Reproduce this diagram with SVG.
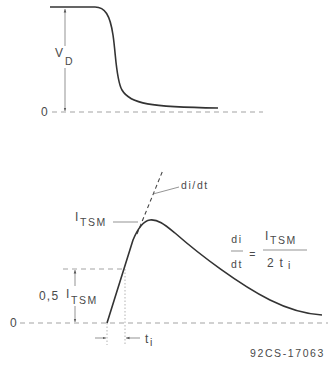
<svg xmlns="http://www.w3.org/2000/svg" width="328" height="365" viewBox="0 0 328 365">
<defs>
<marker id="ah" viewBox="0 0 6 6" refX="6" refY="3" markerWidth="5" markerHeight="5" orient="auto-start-reverse"><path d="M0,0.8 L6,3 L0,5.2 Z" fill="#555"/></marker>
<style>
.curve{fill:none;stroke:#333;stroke-width:1.6}
.dash{fill:none;stroke:#999;stroke-width:0.9;stroke-dasharray:5,4}
.dot{fill:none;stroke:#aaa;stroke-width:0.9;stroke-dasharray:1.5,2}
.dim{fill:none;stroke:#666;stroke-width:0.7}
.t{font-family:"Liberation Sans",Arial,sans-serif;font-size:12px;letter-spacing:1.2px;fill:#4a4a4a}
.s{font-family:"Liberation Sans",Arial,sans-serif;font-size:10.5px;letter-spacing:1.6px;fill:#4a4a4a}
</style>
</defs>
<g id="connectors">
<line class="dash" x1="52" y1="112" x2="263" y2="112"/>
<line class="dim" x1="65" y1="9" x2="65" y2="46" marker-start="url(#ah)"/>
<line class="dim" x1="65" y1="68" x2="65" y2="111" marker-end="url(#ah)"/>
<line class="dash" x1="20" y1="323" x2="328" y2="323"/>
<line class="dash" x1="63" y1="269" x2="125" y2="269"/>
<line class="dot" x1="125" y1="269" x2="125" y2="345"/>
<line class="dot" x1="107" y1="323" x2="107" y2="345"/>
<line class="dim" x1="75" y1="270" x2="75" y2="286" marker-start="url(#ah)"/>
<line class="dim" x1="75" y1="306" x2="75" y2="322" marker-end="url(#ah)"/>
<line class="dim" x1="95" y1="338" x2="106" y2="338" marker-end="url(#ah)"/>
<line class="dim" x1="140" y1="338" x2="126" y2="338" marker-end="url(#ah)"/>
<line class="dash" x1="137" y1="234" x2="163" y2="170" style="stroke:#444;stroke-width:1.1;stroke-dasharray:4,3"/>
<line class="dim" x1="113" y1="222" x2="138" y2="222"/>
<path class="dim" d="M179,187 L153,194"/>
</g>
<g id="vd-curve">
<path class="curve" d="M50,7 L95,7 C105,7 110,15 113,35 C116,55 116,80 122,90 C130,104 150,107 218,108"/>
<text class="t" x="45" y="116" text-anchor="middle">0</text>
<text class="t" x="55" y="57">V</text>
<text class="s" x="65" y="65">D</text>
</g>
<g id="i-curve">
<path class="curve" d="M107,323 L133,240 C138,228 143,221 150,220 C158,219 165,225 175,233 C200,255 240,285 270,300 C290,310 305,314 322,315"/>
<text class="t" x="14" y="327" text-anchor="middle">0</text>
<text class="t" x="75" y="221">I</text>
<text class="s" x="80" y="226">TSM</text>
<text class="t" x="39" y="300">0,5</text>
<text class="t" x="66" y="298">I</text>
<text class="s" x="71" y="304">TSM</text>
<text class="s" x="181" y="189">di/dt</text>
<text class="t" x="145" y="343">t</text>
<text class="s" x="150" y="346">i</text>
</g>
<g id="formula">
<text class="s" x="237" y="243" text-anchor="middle">di</text>
<line class="dim" x1="231" y1="251" x2="243" y2="251"/>
<text class="s" x="237" y="268" text-anchor="middle">dt</text>
<text class="s" x="253" y="258" text-anchor="middle">=</text>
<text class="t" x="265" y="240">I</text>
<text class="s" x="270" y="244">TSM</text>
<line class="dim" x1="263" y1="250" x2="307" y2="250"/>
<text class="t" x="267" y="267">2 t</text>
<text class="s" x="288" y="269">i</text>
</g>
<g id="code">
<text class="s" x="325" y="357" text-anchor="end">92CS-17063</text>
</g>
</svg>
